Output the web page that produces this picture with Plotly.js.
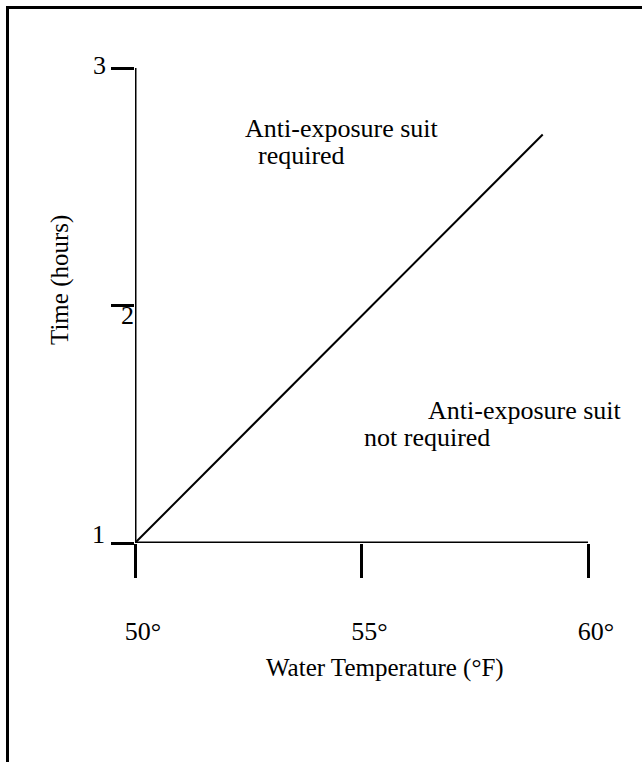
<!DOCTYPE html>
<html>
<head>
<meta charset="utf-8">
<script src="https://cdn.plot.ly/plotly-3.0.1.min.js"></script>
<style>
  html, body { margin: 0; padding: 0; background: #fff; }
  #wrap { position: relative; width: 642px; height: 762px; }
  #chart { width: 642px; height: 762px; }
  #frame { position: absolute; left: 6px; top: 6px; width: 636px; height: 756px;
           border-left: 3px solid #000; border-top: 3px solid #000; box-sizing: border-box; pointer-events: none; }
</style>
</head>
<body>
<div id="wrap"><div id="chart"></div><div id="frame"></div></div>
<script>
// Data
var lineTemps = [50, 59];        // water temperature (°F)
var lineHours = [1, 2.72];       // time (hours)
var xTickVals = [50, 55, 60];
var xTickText = ['50°', '55°', '60°'];
var yTickVals = [1, 2, 3];
var yTickText = ['1', '2', '3'];
var xTitle = 'Water Temperature (°F)';
var yTitle = 'Time (hours)';
var regionAbove = ['Anti-exposure suit', 'required'];
var regionBelow = ['Anti-exposure suit', 'not required'];

var FONT = 'Liberation Serif';
var FS = 26;
var TFS = 25;

var trace = {
  x: lineTemps, y: lineHours, type: 'scatter', mode: 'lines',
  line: { color: '#000', width: 2 }, hoverinfo: 'skip', showlegend: false
};

// y tick label offsets (px) as in the original
var yLabShift = [{dx: -28, dy: 9}, {dx: 1, dy: -10}, {dx: -27, dy: 3}];

var annotations = [];
yTickVals.forEach(function (v, i) {
  annotations.push({
    xref: 'paper', yref: 'y', x: 0, y: v, text: yTickText[i], showarrow: false,
    xanchor: 'right', yanchor: 'middle', xshift: yLabShift[i].dx, yshift: yLabShift[i].dy,
    font: { family: FONT, size: FS, color: '#000' }
  });
});
annotations.push({
  xref: 'paper', yref: 'paper', x: 0.552, y: -0.263, text: xTitle, showarrow: false,
  xanchor: 'center', yanchor: 'middle', font: { family: FONT, size: TFS, color: '#000' }
});
annotations.push({
  xref: 'paper', yref: 'paper', x: -0.1656, y: 0.5537, text: yTitle, showarrow: false,
  textangle: -90, xanchor: 'center', yanchor: 'middle', font: { family: FONT, size: TFS, color: '#000' }
});
var regionPos = [
  { x: 52.384, y: 2.746 }, { x: 52.67, y: 2.630 },
  { x: 56.42, y: 1.56 }, { x: 55.01, y: 1.446 }
];
regionAbove.concat(regionBelow).forEach(function (t, i) {
  annotations.push({
    xref: 'x', yref: 'y', x: regionPos[i].x, y: regionPos[i].y, text: t, showarrow: false,
    xanchor: 'left', yanchor: 'middle',
    font: { family: FONT, size: FS, color: '#000' }
  });
});

var layout = {
  width: 642, height: 762,
  margin: { l: 135, r: 54, t: 68, b: 219, pad: 0 },
  paper_bgcolor: '#fff', plot_bgcolor: '#fff',
  showlegend: false,
  font: { family: FONT, size: FS, color: '#000' },
  xaxis: {
    range: [50, 60], showgrid: false, zeroline: false,
    showline: false, ticks: 'outside', ticklen: 34, tickwidth: 3, tickcolor: '#000',
    tickvals: xTickVals, ticktext: xTickText,
    ticklabelstandoff: 31, ticklabelshift: 8,
    tickfont: { family: FONT, size: FS, color: '#000' }, fixedrange: true
  },
  yaxis: {
    range: [1, 3], showgrid: false, zeroline: false,
    showline: false, ticks: 'outside', ticklen: 23, tickwidth: 3, tickcolor: '#000',
    tickvals: yTickVals, showticklabels: false, fixedrange: true
  },
  shapes: [
    { type: 'line', xref: 'x', yref: 'y', x0: 50, x1: 60, y0: 1, y1: 1, line: { color: '#000', width: 3 } },
    { type: 'line', xref: 'x', yref: 'y', x0: 50, x1: 50, y0: 1, y1: 3, line: { color: '#000', width: 3 } }
  ],
  annotations: annotations
};

Plotly.newPlot('chart', [trace], layout, { displayModeBar: false, staticPlot: true });
</script>
</body>
</html>
